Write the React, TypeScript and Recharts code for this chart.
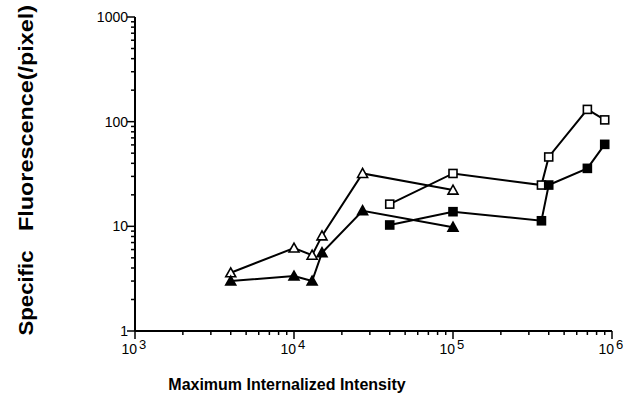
import { ComposedChart, Scatter, XAxis, YAxis } from 'recharts';

const triX = [4000, 10000, 13000, 15000, 27000, 100000];
const openTriY = [3.6, 6.2, 5.3, 8.1, 32, 22.2];
const filledTriY = [3.0, 3.35, 3.0, 5.6, 14.1, 9.8];

const sqX = [40000, 100000, 360000, 400000, 700000, 900000];
const openSqY = [16.3, 32, 24.8, 46, 131, 104];
const filledSqY = [10.3, 13.8, 11.3, 24.8, 35.8, 60.7];

const xTicks = [
  1000, 2000, 3000, 4000, 5000, 6000, 7000, 8000, 9000,
  10000, 20000, 30000, 40000, 50000, 60000, 70000, 80000, 90000,
  100000, 200000, 300000, 400000, 500000, 600000, 700000, 800000, 900000,
  1000000,
];
const yTicks = [
  1, 2, 3, 4, 5, 6, 7, 8, 9,
  10, 20, 30, 40, 50, 60, 70, 80, 90,
  100, 200, 300, 400, 500, 600, 700, 800, 900,
  1000,
];

const zip = (xs: number[], ys: number[]) => xs.map((x, i) => ({ x, y: ys[i] }));

const openTri = zip(triX, openTriY);
const filledTri = zip(triX, filledTriY);
const openSq = zip(sqX, openSqY);
const filledSq = zip(sqX, filledSqY);

const FONT = '"Liberation Sans", Arial, Helvetica, sans-serif';

const isMajor = (v: number) => {
  const e = Math.log10(v);
  return Math.abs(e - Math.round(e)) < 1e-9;
};

function XTick(props: any) {
  const { x, y, payload } = props;
  const v = payload.value;
  const major = isMajor(v);
  return (
    <g>
      <line x1={x} x2={x} y1={y} y2={y + (major ? 8 : 4)} stroke="#000" strokeWidth={1.5} />
      {major && (
        <g fontFamily={FONT} fill="#000">
          <text x={x + 2} y={y + 23} textAnchor="end" fontSize={14}>
            10
          </text>
          <text x={x + 4} y={y + 18} textAnchor="start" fontSize={13}>
            {Math.round(Math.log10(v))}
          </text>
        </g>
      )}
    </g>
  );
}

function YTick(props: any) {
  const { x, y, payload } = props;
  const v = payload.value;
  const major = isMajor(v);
  return (
    <g>
      <line x1={x} x2={x - (major ? 8 : 4)} y1={y} y2={y} stroke="#000" strokeWidth={1.5} />
      {major && (
        <text x={x - 7} y={y + 5} textAnchor="end" fontSize={14} fontFamily={FONT} fill="#000">
          {v}
        </text>
      )}
    </g>
  );
}

function triangle(filled: boolean) {
  return (props: any) => {
    const { cx, cy } = props;
    const w = 5;
    const pts = `${cx},${cy - 5} ${cx + w},${cy + 4} ${cx - w},${cy + 4}`;
    return (
      <polygon points={pts} fill={filled ? '#000' : '#fff'} stroke="#000" strokeWidth={1.6} />
    );
  };
}

function square(filled: boolean) {
  return (props: any) => {
    const { cx, cy } = props;
    const s = 8;
    return (
      <rect
        x={cx - s / 2}
        y={cy - s / 2}
        width={s}
        height={s}
        fill={filled ? '#000' : '#fff'}
        stroke="#000"
        strokeWidth={1.6}
      />
    );
  };
}

function YTitle() {
  return (
    <g fontFamily={FONT} fontWeight="bold" fill="#000" fontSize={21}>
      <text
        x={33}
        y={118}
        transform="rotate(-90 33 118)"
        textAnchor="middle"
        textLength={226}
        lengthAdjust="spacingAndGlyphs"
      >
        Fluorescence(/pixel)
      </text>
      <text
        x={33}
        y={293}
        transform="rotate(-90 33 293)"
        textAnchor="middle"
        textLength={85}
        lengthAdjust="spacingAndGlyphs"
      >
        Specific
      </text>
    </g>
  );
}

function XTitle() {
  return (
    <text
      x={287}
      y={390}
      textAnchor="middle"
      fontFamily={FONT}
      fontWeight="bold"
      fontSize={16}
      fill="#000"
    >
      Maximum Internalized Intensity
    </text>
  );
}

const lineStyle = { stroke: '#000', strokeWidth: 2 };

export default function App() {
  return (
    <div style={{ position: 'absolute', left: 0, top: 0, background: '#fff' }}>
      <ComposedChart
        width={639}
        height={399}
        margin={{ top: 17, right: 27, bottom: 38, left: 75 }}
      >
        <XAxis
          dataKey="x"
          type="number"
          scale="log"
          domain={[1000, 1000000]}
          ticks={xTicks}
          interval={0}
          allowDataOverflow
          axisLine={{ stroke: '#000', strokeWidth: 2 }}
          tickLine={false}
          tickSize={0}
          tickMargin={0}
          tick={<XTick />}
          label={<XTitle />}
        />
        <YAxis
          dataKey="y"
          type="number"
          scale="log"
          domain={[1, 1000]}
          ticks={yTicks}
          interval={0}
          allowDataOverflow
          width={60}
          axisLine={{ stroke: '#000', strokeWidth: 2 }}
          tickLine={false}
          tickSize={0}
          tickMargin={0}
          tick={<YTick />}
          label={<YTitle />}
        />
        <Scatter data={openTri} line={lineStyle} shape={triangle(false)} isAnimationActive={false} />
        <Scatter data={filledTri} line={lineStyle} shape={triangle(true)} isAnimationActive={false} />
        <Scatter data={openSq} line={lineStyle} shape={square(false)} isAnimationActive={false} />
        <Scatter data={filledSq} line={lineStyle} shape={square(true)} isAnimationActive={false} />
      </ComposedChart>
    </div>
  );
}
